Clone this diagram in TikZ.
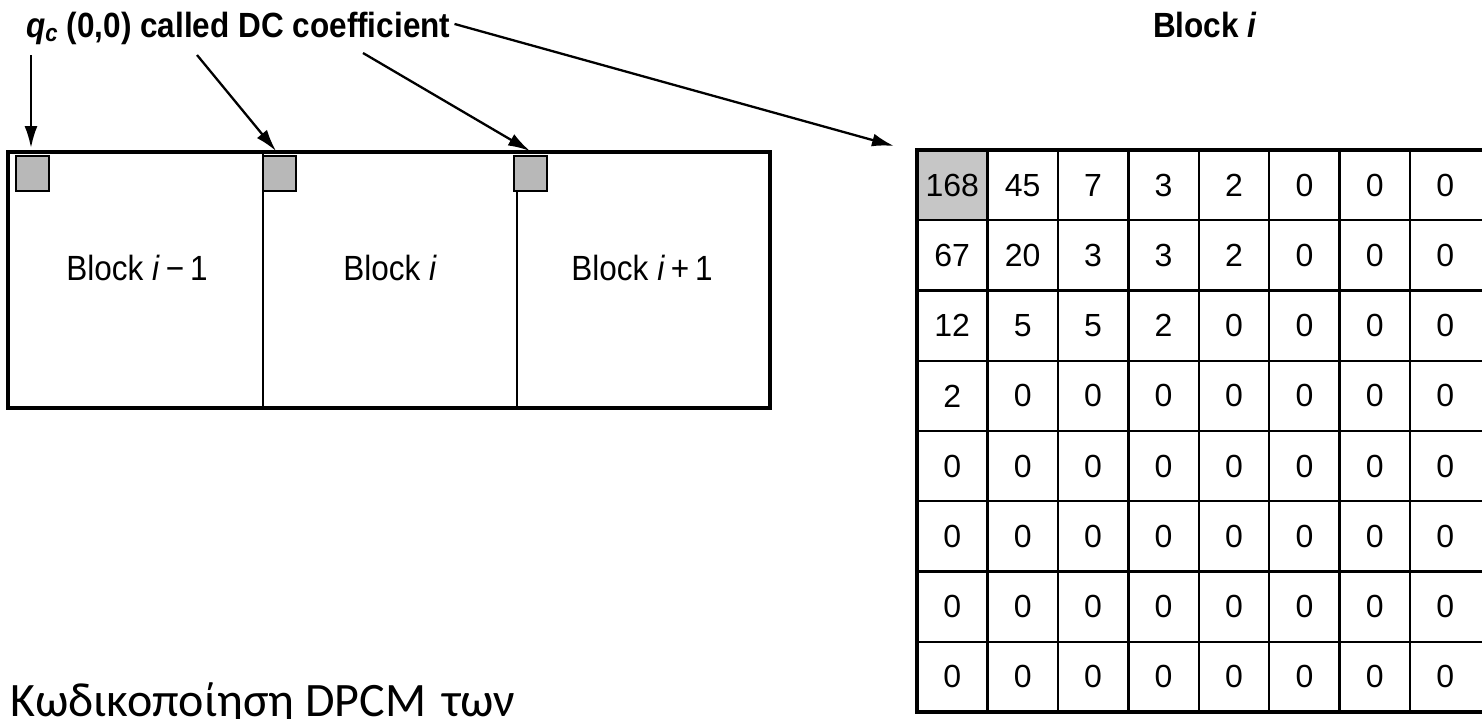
\documentclass[tikz,border=0pt]{standalone}
\usepackage{fontspec}
\setmainfont{Liberation Sans}
\newfontfamily\helc[FakeStretch=0.9]{Liberation Sans}
\newfontfamily\greekfont{Carlito}
\usetikzlibrary{arrows.meta}
\definecolor{sqgray}{HTML}{B8B8B8}
\definecolor{cellgray}{HTML}{C6C6C6}
\tikzset{
  frame/.style={line width=4.5pt},
  divider/.style={line width=2pt},
  dcsq/.style={draw, line width=1.8pt, fill=sqgray, minimum width=33pt, minimum height=35pt, inner sep=0pt, anchor=north west},
  arr/.style={line width=2.3pt, -{Latex[length=22pt,width=13pt]}},
  lbl/.style={font=\helc\fontsize{35}{40}\selectfont\bfseries, inner sep=0pt},
  blk/.style={font=\helc\fontsize{35}{40}\selectfont, inner sep=0pt},
  num/.style={font=\fontsize{32}{36}\selectfont, inner sep=0pt},
  gridline/.style={line width=2.4pt},
  greektext/.style={font=\greekfont\fontsize{48}{58}\selectfont, inner sep=0pt, anchor=base west}
}
\begin{document}
\begin{tikzpicture}[x=1pt,y=-1pt]
\useasboundingbox[fill=white] (0,0) rectangle (1482,718);

% titles
\node[lbl, anchor=base west] (title) at (26,37) {\textit{q}\textsubscript{\textit{c}} (0,0) called DC coefficient};
\node[lbl, anchor=base] (blocktitle) at (1205,37) {Block \textit{i}};

% left strip of blocks
\draw[divider] (263,152) -- (263,408);
\draw[divider] (517,188) -- (517,408);
\draw[frame] (8,152) rectangle (770,408);
\node[dcsq] (sq1) at (15,155) {};
\node[dcsq] (sq2) at (262,155) {};
\node[dcsq] (sq3) at (513,155) {};

\node[blk] (b1) at (137,268) {Block \textit{i}\,−\,1};
\node[blk] (b2) at (390,268) {Block \textit{i}};
\node[blk] (b3) at (642,268) {Block \textit{i}\,+\,1};

% arrows
\coordinate (s1) at (31,55);
\coordinate (s2) at (197,55);
\coordinate (s3) at (363,53);
\coordinate (t1) at (31,148);
\coordinate (t2) at (276,151);
\coordinate (t3) at (530,151);
\coordinate (t4) at (894,146);
\draw[arr] (s1) -- (t1);
\draw[arr] (s2) -- (t2);
\draw[arr] (s3) -- (t3);
\draw[arr] ([xshift=4pt,yshift=4pt]title.east) -- (t4);

% matrix (Block i)
\coordinate (mtl) at (917,150);
\fill[cellgray] (917,150) rectangle (987.4,220.25);
\foreach \i in {1,...,7} \draw[gridline] (917+\i*70.43,150) -- (917+\i*70.43,712);
\foreach \j in {1,...,7} \draw[gridline] (917,150+\j*70.25) -- (1490,150+\j*70.25);
\draw[line width=4.5pt] (917,150) rectangle (1492,712);

\foreach \row [count=\r] in {{168,45,7,3,2,0,0,0},{67,20,3,3,2,0,0,0},{12,5,5,2,0,0,0,0},{2,0,0,0,0,0,0,0},{0,0,0,0,0,0,0,0},{0,0,0,0,0,0,0,0},{0,0,0,0,0,0,0,0},{0,0,0,0,0,0,0,0}}
  \foreach \v [count=\c] in \row
    \node[num] (m-\r-\c) at (917+\c*70.43-35.2, 150+\r*70.25-35.1) {\v};

% Greek caption
\node[greektext] (caption) at (10,716) {Κωδικοποίηση DPCM\hspace{5pt} των};
\end{tikzpicture}
\end{document}
